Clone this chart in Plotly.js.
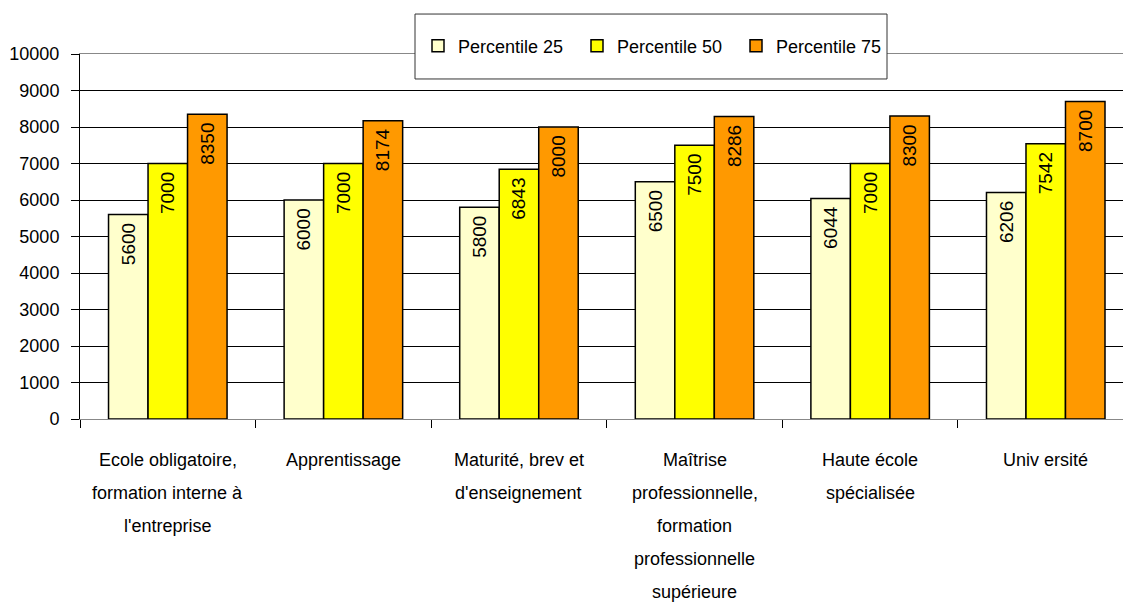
<!DOCTYPE html>
<html>
<head>
<meta charset="utf-8">
<script src="https://cdn.plot.ly/plotly-3.0.1.min.js"></script>
<style>html,body{margin:0;padding:0;background:#fff;}#chart{width:1123px;height:602px;}</style>
</head>
<body>
<div id="chart"></div>
<script>
const categories = [
  "Ecole obligatoire,<br>formation interne à<br>l'entreprise",
  "Apprentissage",
  "Maturité, brev et<br>d'enseignement",
  "Maîtrise<br>professionnelle,<br>formation<br>professionnelle<br>supérieure",
  "Haute école<br>spécialisée",
  "Univ ersité"
];
const seriesNames = ["Percentile 25", "Percentile 50", "Percentile 75"];
const p25 = [5600, 6000, 5800, 6500, 6044, 6206];
const p50 = [7000, 7000, 6843, 7500, 7000, 7542];
const p75 = [8350, 8174, 8000, 8286, 8300, 8700];
const yTicks = [0,1000,2000,3000,4000,5000,6000,7000,8000,9000,10000];

const FONT = "'Liberation Sans', Arial, sans-serif";
const colors = ["#FFFFCC", "#FFFF00", "#FF9900"];
const xIdx = categories.map((_, i) => i);

const traces = [p25, p50, p75].map((vals, k) => ({
  type: 'bar',
  name: seriesNames[k],
  x: xIdx,
  y: vals,
  text: vals.map(v => String(v) + '\u00a0'),
  textposition: 'inside',
  insidetextanchor: 'end',
  textangle: -90,
  constraintext: 'none',
  textfont: {family: FONT, size: 19, color: '#000'},
  marker: {color: colors[k], line: {color: '#000', width: 1.5}},
  hoverinfo: 'skip'
}));

const annotations = [];
categories.forEach((c, i) => {
  c.split('<br>').forEach((line, j) => {
    annotations.push({
      xref: 'x', yref: 'paper', x: i, y: 0,
      yanchor: 'middle', xanchor: 'center',
      yshift: -41 - 33 * j,
      text: line, showarrow: false,
      font: {family: FONT, size: 18, color: '#000'}
    });
  });
});

const layout = {
  width: 1123, height: 602,
  margin: {l: 80, r: 0, t: 54, b: 183, pad: 0, autoexpand: false},
  paper_bgcolor: '#fff', plot_bgcolor: '#fff',
  barmode: 'group', bargap: 0.325, bargroupgap: 0,
  showlegend: true,
  legend: {
    orientation: 'h',
    xref: 'container', yref: 'container',
    x: 418/1123, y: 1 - 46/602, xanchor: 'left', yanchor: 'middle',
    bgcolor: 'rgba(0,0,0,0)', borderwidth: 0,
    font: {family: FONT, size: 18, color: '#000'},
    entrywidth: 114, entrywidthmode: 'pixels',
    traceorder: 'normal'
  },
  xaxis: {
    type: 'linear',
    range: [-0.5, 5.44],
    showticklabels: false,
    tickmode: 'array', tickvals: [-0.5, 0.5, 1.5, 2.5, 3.5, 4.5],
    ticks: 'outside', ticklen: 8, tickcolor: '#000', tickwidth: 1,
    showgrid: false, zeroline: false,
    showline: true, linecolor: '#888', linewidth: 1, mirror: true
  },
  yaxis: {
    range: [0, 10000],
    tickmode: 'array', tickvals: yTicks, ticktext: yTicks.map(String),
    ticks: 'outside', ticklen: 8, tickcolor: '#000',
    ticklabelstandoff: 8,
    tickfont: {family: FONT, size: 18, color: '#000'},
    showgrid: true, gridcolor: '#000', gridwidth: 1,
    zeroline: false,
    showline: true, linecolor: '#000', linewidth: 1
  },
  shapes: [{
    type: 'rect', xref: 'paper', yref: 'paper', layer: 'above',
    x0: (415-80)/1043, x1: (887-80)/1043,
    y0: (419.3-79)/365.3, y1: (419.3-14)/365.3,
    fillcolor: '#fff', line: {color: '#333', width: 1}
  }],
  annotations: annotations
};

Plotly.newPlot('chart', traces, layout, {displayModeBar: false, staticPlot: true});
</script>
</body>
</html>
